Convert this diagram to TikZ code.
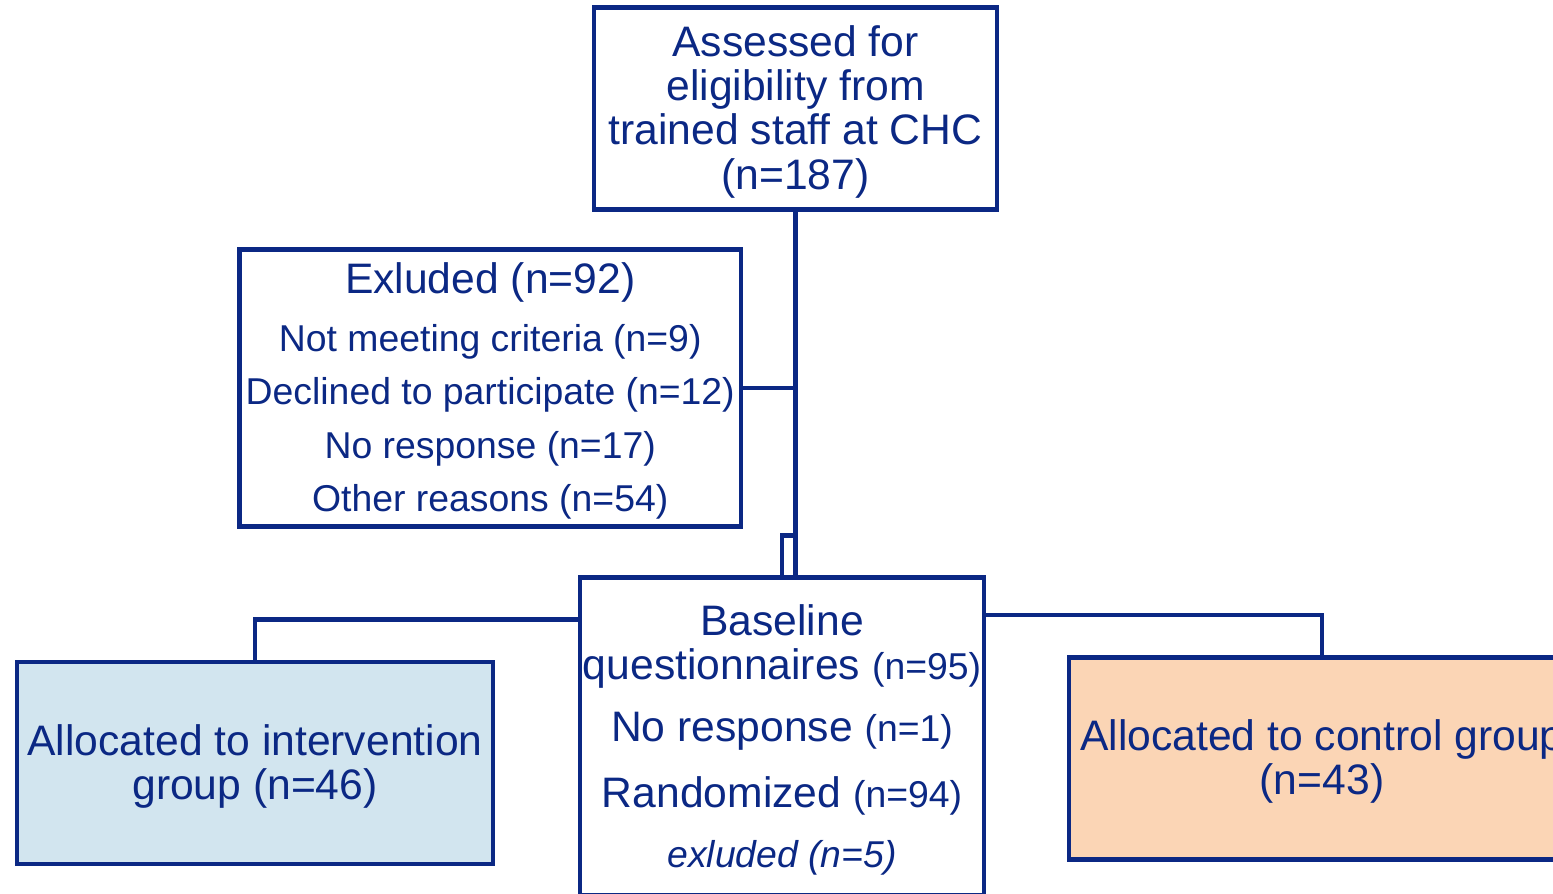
\documentclass[tikz,border=0pt]{standalone}
\usepackage{fontspec}
\setmainfont{Liberation Sans}
\usepackage{xcolor}

\definecolor{navy}{RGB}{11,40,132}
\definecolor{ivfill}{RGB}{210,229,239}
\definecolor{ctfill}{RGB}{251,213,181}

\newcommand{\bigtxt}{\fontsize{42.8}{44.5}\selectfont}
\newcommand{\smtxt}{\fontsize{37.5}{53.7}\selectfont}
\newcommand{\topgap}{\rule{0pt}{37.4bp}}

\begin{document}
\begin{tikzpicture}[x=1bp, y=-1bp,
  box/.style={draw=navy, line width=4.5bp, text=navy, align=center, inner sep=0pt},
  link/.style={navy, line width=4.5bp}]

% marco
\useasboundingbox (0,0) rectangle (1553,893);
\clip (0,0) rectangle (1553,893);

% cajas
\node[box, minimum width=403bp, minimum height=202bp, font=\bigtxt] (assess) at (795.5,108.5)
  {\topgap Assessed for\\eligibility from\\trained staff at CHC\\(n=187)};
\node[box, minimum width=501.5bp, minimum height=277bp, font=\smtxt] (excl) at (490.25,388)
  {\topgap{\fontsize{42.8}{50}\selectfont Exluded (n=92)}\\[4bp]Not meeting criteria (n=9)\\Declined to participate (n=12)\\No response (n=17)\\Other reasons (n=54)};
\node[box, minimum width=404bp, minimum height=318bp, font=\bigtxt] (base) at (782,736.5)
  {\topgap Baseline\\questionnaires {\smtxt(n=95)}\\[17.5bp]No response {\smtxt(n=1)}\\[21.5bp]Randomized {\smtxt(n=94)}\\[15.5bp]{\smtxt\itshape exluded (n=5)}};
\node[box, fill=ivfill, minimum width=476bp, minimum height=202bp, font=\bigtxt] (interv) at (255,763)
  {\topgap Allocated to intervention\\group (n=46)};
\node[box, fill=ctfill, minimum width=506bp, minimum height=202bp, font=\bigtxt] (ctrl) at (1322,758.5)
  {\topgap Allocated to control group\\(n=43)};

% puntos de union
\coordinate (split) at (795.5,535.5);
\coordinate (ljoin) at (580,619.5);
\coordinate (rjoin) at (984,615);

% lineas
\draw[link] (assess.south) -- (assess.south |- base.north);
\draw[link] (excl.east) -- (excl.east -| assess.south);
\draw[link] (base.north) |- (split);
\draw[link] (interv.north) |- (ljoin);
\draw[link] (rjoin) -| (ctrl.north);
\end{tikzpicture}
\end{document}
